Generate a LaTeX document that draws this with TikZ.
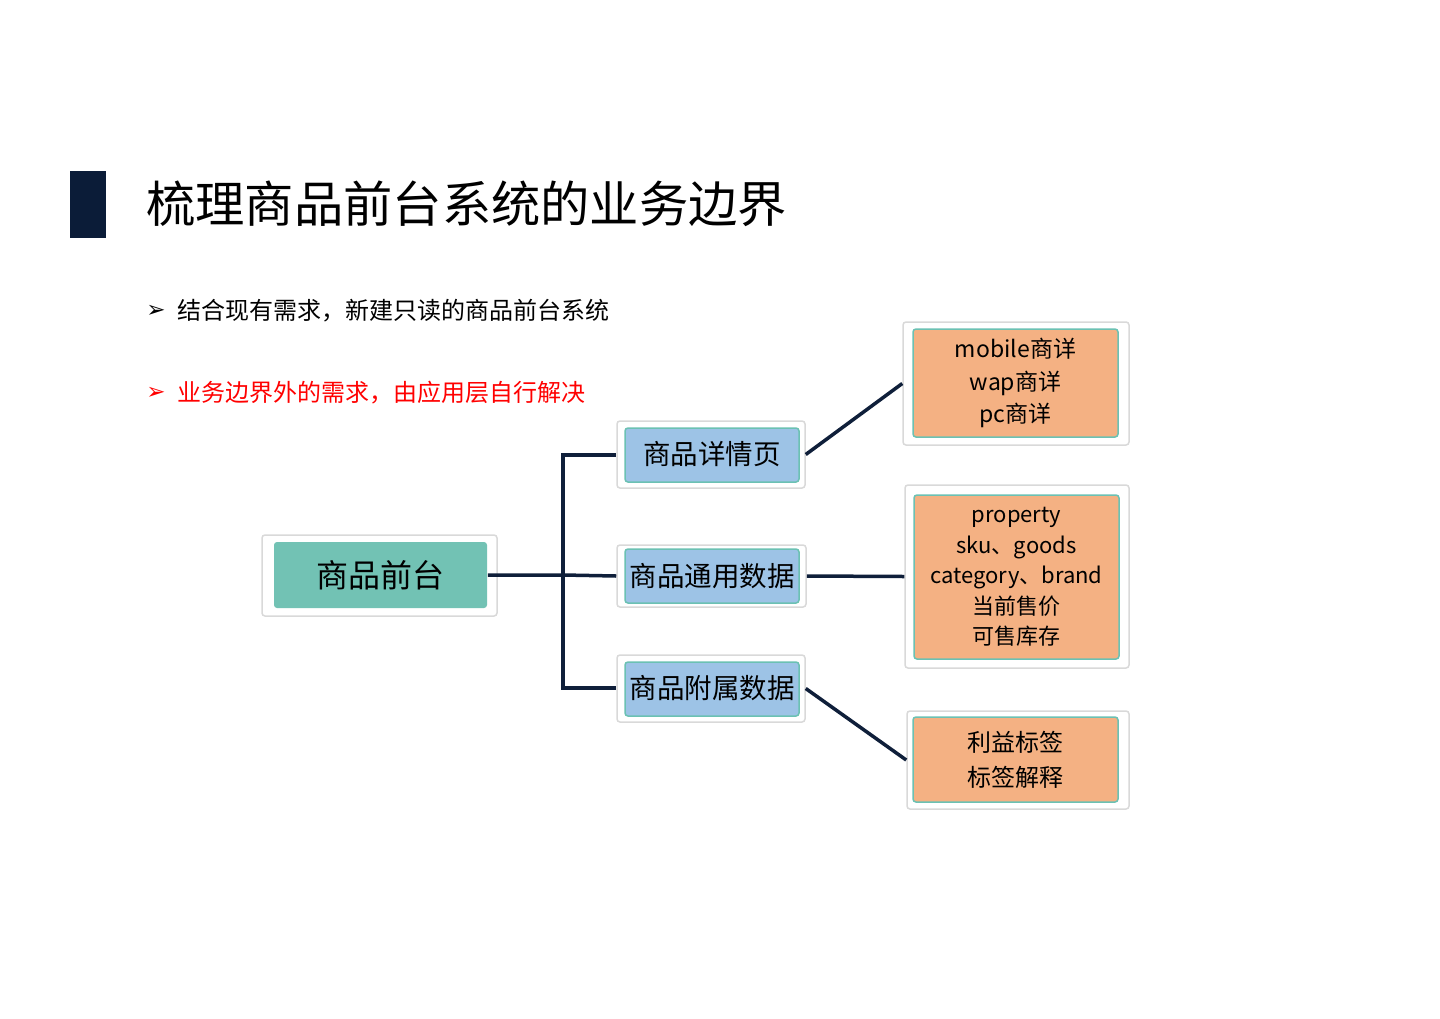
\documentclass[tikz,border=0pt]{standalone}
\usepackage{fontspec}
\setmainfont{Noto Sans CJK SC}
\newfontfamily\symfont{DejaVu Sans}
\definecolor{barnavy}{HTML}{0B1C38}
\definecolor{linenavy}{HTML}{0F1F3A}
\definecolor{tealfill}{HTML}{72C2B4}
\definecolor{bluefill}{HTML}{9DC3E6}
\definecolor{orangefill}{HTML}{F4B183}
\definecolor{tealedge}{HTML}{6BC1B3}
\definecolor{grayedge}{HTML}{D9D9D9}
\definecolor{redtext}{HTML}{FF0000}
\tikzset{
  outerbox/.style={draw=grayedge, line width=1.5pt, fill=white, rounded corners=3pt, inner sep=0pt},
  innerbox/.style={draw=tealedge, line width=1.5pt, rounded corners=3pt, inner sep=0pt, align=center, text=black},
  conn/.style={draw=linenavy, line width=3.5pt},
}
\begin{document}
\begin{tikzpicture}[x=1pt,y=-1pt]
\useasboundingbox (0,0) rectangle (1440,1018);
\fill[white] (0,0) rectangle (1440,1018);
% title bar
\node[fill=barnavy, minimum width=36pt, minimum height=67pt, inner sep=0pt] (bar) at (88,204.5) {};
\node[anchor=west, inner sep=0pt, font=\fontsize{49.3}{55}\selectfont] (title) at (146,204) {梳理商品前台系统的业务边界};
% bullets
\node[anchor=center, inner sep=0pt, font=\symfont\fontsize{23}{26}\selectfont] (b1) at (156,311) {➢};
\node[anchor=west, inner sep=0pt, font=\fontsize{24}{28}\selectfont] (t1) at (177,311) {结合现有需求，新建只读的商品前台系统};
\node[anchor=center, inner sep=0pt, text=redtext, font=\symfont\fontsize{23}{26}\selectfont] (b2) at (156,393) {➢};
\node[anchor=west, inner sep=0pt, text=redtext, font=\fontsize{24}{28}\selectfont] (t2) at (177,393) {业务边界外的需求，由应用层自行解决};
% root
\node[outerbox, minimum width=235pt, minimum height=81pt] (root) at (379.5,575.5) {};
\node[innerbox, draw=none, fill=tealfill, minimum width=213pt, minimum height=66pt, font=\fontsize{32}{36}\selectfont] (rootin) at (380.5,575) {\raisebox{3pt}{商品前台}};
% middle
\node[outerbox, minimum width=188pt, minimum height=67pt] (m1) at (711,454.5) {};
\node[innerbox, fill=bluefill, minimum width=174pt, minimum height=54pt, font=\fontsize{27.5}{32}\selectfont] (m1in) at (712,455) {\raisebox{4pt}{商品详情页}};
\node[outerbox, minimum width=189pt, minimum height=62pt] (m2) at (711.5,576) {};
\node[innerbox, fill=bluefill, minimum width=174pt, minimum height=54pt, font=\fontsize{27.5}{32}\selectfont] (m2in) at (712,576) {\raisebox{3pt}{商品通用数据}};
\node[outerbox, minimum width=188pt, minimum height=67pt] (m3) at (711,688.5) {};
\node[innerbox, fill=bluefill, minimum width=174pt, minimum height=54pt, font=\fontsize{27.5}{32}\selectfont] (m3in) at (712,689) {\raisebox{4pt}{商品附属数据}};
% right
\node[outerbox, minimum width=226pt, minimum height=123pt] (r1) at (1016,383.5) {};
\node[innerbox, fill=orangefill, minimum width=205pt, minimum height=108pt, font=\fontsize{23}{32.5}\selectfont] (r1in) at (1015.5,383) {mobile商详\\wap商详\\pc商详};
\node[outerbox, minimum width=224pt, minimum height=183pt] (r2) at (1017,576.5) {};
\node[innerbox, fill=orangefill, minimum width=205pt, minimum height=164pt, font=\fontsize{22}{30.5}\selectfont] (r2in) at (1016.5,577) {property\\sku、goods\\category、brand\\当前售价\\可售库存};
\node[outerbox, minimum width=222pt, minimum height=98pt] (r3) at (1018,760) {};
\node[innerbox, fill=orangefill, minimum width=205pt, minimum height=85pt, font=\fontsize{24}{35}\selectfont] (r3in) at (1015.5,759.5) {利益标签\\标签解释};
% connectors
\coordinate (j) at (563,575);
\draw[conn] (rootin.east) -- (j) -- (m2.west);
\draw[conn, line cap=rect] (563,455) -- (563,688);
\draw[conn] (563,455) -- (m1.west |- 0,455);
\draw[conn] (563,688) -- (m3.west |- 0,688);
\draw[conn] (m1.east) -- (r1.west);
\draw[conn] (m2.east) -- (r2.west);
\draw[conn] (m3.east) -- (r3.west);
\end{tikzpicture}
\end{document}
